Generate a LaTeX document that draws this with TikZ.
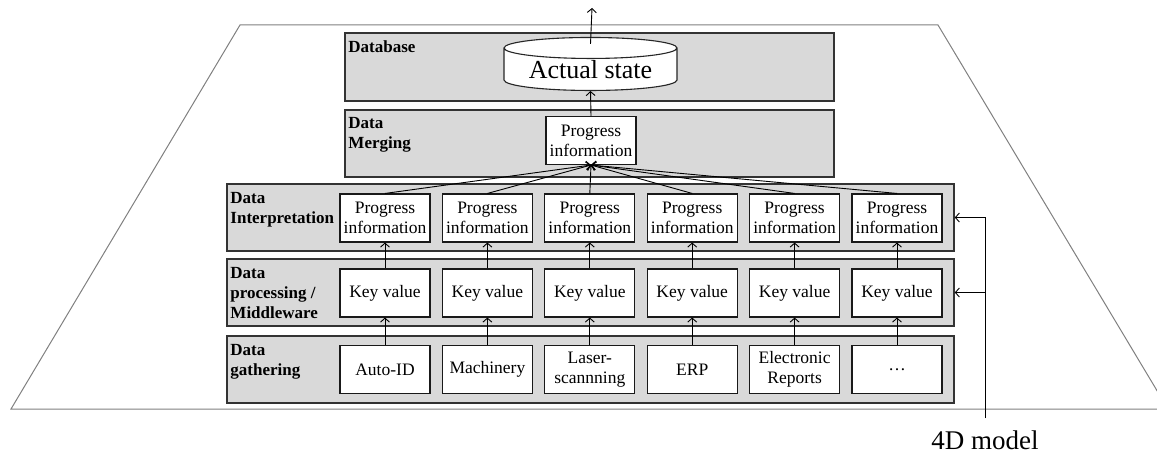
\documentclass[tikz,border=0pt]{standalone}
\usepackage{fontspec}
\setmainfont{Liberation Serif}
\usetikzlibrary{arrows.meta,shapes.geometric}
\definecolor{layergray}{HTML}{D9D9D9}
\definecolor{framegray}{HTML}{808080}
\tikzset{
  layer/.style={draw=black!80, line width=1.5pt, fill=layergray, minimum height=67pt, inner sep=0pt},
  layerlabel/.style={anchor=north west, inner sep=0pt, align=left, font=\fontsize{17}{20}\selectfont\bfseries},
  infobox/.style={draw=black!90, line width=1.1pt, fill=white, minimum width=90pt, minimum height=48pt, inner sep=0pt, align=center, font=\fontsize{17.5}{20}\selectfont},
  arr/.style={-{Straight Barb[length=4pt,width=9pt]}, line width=0.9pt},
}
\begin{document}
\begin{tikzpicture}[x=1pt,y=1pt]
  \useasboundingbox (0,0) rectangle (1157,453);
  % outer frame
  \draw[framegray, line width=1pt] (11,44) -- (240,428) -- (938,428) -- (1168,44) -- cycle;
  % layers
  \node[layer, minimum width=489pt, minimum height=68pt] (db) at (589.5,386) {};
  \node[layer, minimum width=489pt] (merge) at (589.5,309.5) {};
  \node[layer, minimum width=727pt] (interp) at (590.5,235.5) {};
  \node[layer, minimum width=727pt] (proc) at (590.5,160.5) {};
  \node[layer, minimum width=727pt] (gather) at (590.5,83.5) {};
  % layer labels
  \node[layerlabel] at ([shift={(4,-8)}]db.north west) {Database};
  \node[layerlabel] at ([shift={(4,-8)}]merge.north west) {Data\\Merging};
  \node[layerlabel] at ([shift={(4,-9)}]interp.north west) {Data\\Interpretation};
  \node[layerlabel] at ([shift={(4,-9)}]proc.north west) {Data\\processing /\\Middleware};
  \node[layerlabel] at ([shift={(4,-9)}]gather.north west) {Data\\gathering};
  % database and merged information
  \node[cylinder, shape border rotate=90, aspect=0.17, draw=black!85, line width=1.1pt, fill=white,
        minimum width=173pt, minimum height=53pt, inner sep=0pt,
        font=\fontsize{26}{30}\selectfont] (state) at (590.5,383.5) {Actual\ state};
  \node[infobox] (info) at (591,312.5) {Progress\\information};
  \coordinate (out) at (592,445);
  \draw[arr] ([yshift=-7pt]state.north) -- (out);
  \draw[arr] (info.north) -- (state.south);
  % columns
  \foreach \src [count=\i] in {Auto-ID, Machinery, Laser-\\scannning, ERP, Electronic\\Reports, \ldots} {
    \node[infobox] (g\i) at ({385+102.4*(\i-1)},83.5) {\src};
    \node[infobox] (k\i) at ({385+102.4*(\i-1)},160) {Key value};
    \node[infobox] (p\i) at ({385+102.4*(\i-1)},235) {Progress\\information};
    \draw[arr] (g\i) -- (k\i);
    \draw[arr] (k\i) -- (p\i);
    \draw[arr] (p\i.north) -- (info.south);
  }
  % 4D model
  \node[anchor=base, inner sep=0pt, font=\fontsize{27}{30}\selectfont] (model) at (985,4) {4D model};
  \draw[arr, shorten <=12pt] (model.north) |- (interp.east);
  \draw[arr, shorten <=12pt] (model.north) |- (proc.east);
\end{tikzpicture}
\end{document}
